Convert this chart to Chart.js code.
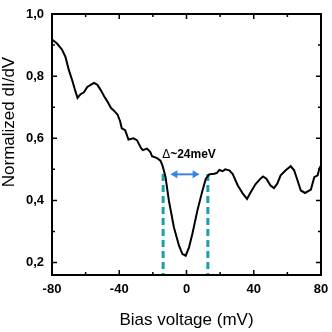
<!DOCTYPE html>
<html>
<head>
<meta charset="utf-8">
<script src="https://cdn.jsdelivr.net/npm/chart.js@4.4.1/dist/chart.umd.min.js"></script>
<style>
  html, body { margin: 0; padding: 0; background: #fff; }
  #wrap { width: 332px; height: 332px; }
</style>
</head>
<body>
<div id="wrap"><canvas id="chartDidv" width="332" height="332"></canvas></div>
<script>
// Données
const biasMv = [-80, -77, -74, -72, -70, -68, -66, -64.8, -63, -61, -59, -57, -55, -53, -51, -49, -47, -45, -43, -41,
  -39.5, -38.5, -36.5, -34.5, -31.5, -29.5, -27, -26, -23.5, -21.5, -20.5, -17.5, -15.5, -14.5, -13.5, -12.5,
  -10.5, -7.5, -4.5, -2.5, -0.5, 1.5, 3.5, 6.5, 9.5, 11.5, 13.5, 16.5, 18, 19.5, 21.5, 23, 25.5, 27.5, 30.5,
  33.5, 36, 38, 41, 44, 45.5, 47.5, 50, 52, 54, 56, 59, 62, 64, 66, 68, 70.5, 74, 76, 78, 79, 80];
const didv = [0.918, 0.905, 0.885, 0.862, 0.82, 0.787, 0.75, 0.730, 0.742, 0.748, 0.765, 0.772, 0.778, 0.772, 0.755,
  0.735, 0.718, 0.698, 0.688, 0.676, 0.655, 0.632, 0.626, 0.596, 0.600, 0.594, 0.568, 0.562, 0.567, 0.556, 0.542,
  0.536, 0.528, 0.515, 0.497, 0.476, 0.400, 0.314, 0.255, 0.228, 0.222, 0.249, 0.293, 0.368, 0.432, 0.470, 0.484,
  0.486, 0.488, 0.498, 0.494, 0.500, 0.497, 0.485, 0.448, 0.422, 0.405, 0.425, 0.452, 0.470, 0.477, 0.470, 0.448,
  0.440, 0.454, 0.481, 0.497, 0.510, 0.497, 0.465, 0.432, 0.424, 0.435, 0.475, 0.481, 0.502, 0.513];

const xTicks = [-80, -40, 0, 40, 80];
const xMinor = [-60, -20, 20, 60];
const yTicks = [0.2, 0.4, 0.6, 0.8, 1.0];
const yMinor = [0.3, 0.5, 0.7, 0.9];

// bords du gap (traits pointillés) et flèche
const gapEdges = [-13.9, 12.7];
const gapTop = 0.485;
const arrowX = [-9.6, 7.8];
const arrowY = 0.484;
const gapLabel = ['Δ', '~24meV'];

const FONT = "'Liberation Sans', Arial, sans-serif";

const dashedSets = gapEdges.map(x => ({
  data: [{ x: x, y: gapTop }, { x: x, y: 0.16 }],
  borderColor: '#1a9fab',
  borderWidth: 3,
  borderDash: [7, 4],
  pointRadius: 0
}));

const decor = {
  id: 'decor',
  afterDraw(chart) {
    const { ctx, chartArea: a, scales: { x, y } } = chart;
    ctx.save();
    ctx.strokeStyle = '#000';
    ctx.lineWidth = 2;
    ctx.strokeRect(a.left, a.top, a.right - a.left, a.bottom - a.top);

    ctx.lineWidth = 1.5;
    const tickX = (v, len) => {
      const p = x.getPixelForValue(v);
      ctx.beginPath();
      ctx.moveTo(p, a.bottom); ctx.lineTo(p, a.bottom - len);
      ctx.moveTo(p, a.top); ctx.lineTo(p, a.top + len);
      ctx.stroke();
    };
    const tickY = (v, len) => {
      const p = y.getPixelForValue(v);
      ctx.beginPath();
      ctx.moveTo(a.left, p); ctx.lineTo(a.left + len, p);
      ctx.moveTo(a.right, p); ctx.lineTo(a.right - len, p);
      ctx.stroke();
    };
    xTicks.forEach(v => tickX(v, 5));
    xMinor.forEach(v => tickX(v, 3));
    yTicks.forEach(v => tickY(v, 5));
    yMinor.forEach(v => tickY(v, 3));

    // flèche double
    const ay = y.getPixelForValue(arrowY);
    const x1 = x.getPixelForValue(arrowX[0]);
    const x2 = x.getPixelForValue(arrowX[1]);
    ctx.strokeStyle = '#3a86e0';
    ctx.fillStyle = '#3a86e0';
    ctx.lineWidth = 2;
    ctx.beginPath();
    ctx.moveTo(x1 + 4, ay); ctx.lineTo(x2 - 4, ay);
    ctx.stroke();
    ctx.beginPath();
    ctx.moveTo(x1, ay); ctx.lineTo(x1 + 7, ay - 4); ctx.lineTo(x1 + 7, ay + 4); ctx.closePath();
    ctx.moveTo(x2, ay); ctx.lineTo(x2 - 7, ay - 4); ctx.lineTo(x2 - 7, ay + 4); ctx.closePath();
    ctx.fill();

    // étiquette du gap
    ctx.fillStyle = '#000';
    ctx.textBaseline = 'alphabetic';
    ctx.textAlign = 'left';
    ctx.font = '12px ' + FONT;
    const w1 = ctx.measureText(gapLabel[0]).width;
    ctx.font = 'bold 12px ' + FONT;
    const w2 = ctx.measureText(gapLabel[1]).width;
    const cx = (x1 + x2) / 2 + 4;
    const tx = cx - (w1 + w2) / 2;
    ctx.font = '12px ' + FONT;
    ctx.fillText(gapLabel[0], tx, ay - 16.5);
    ctx.font = 'bold 12px ' + FONT;
    ctx.fillText(gapLabel[1], tx + w1, ay - 16.5);

    // titres des axes
    ctx.font = '17px ' + FONT;
    ctx.textAlign = 'center';
    ctx.textBaseline = 'middle';
    ctx.fillText('Bias voltage (mV)', (a.left + a.right) / 2, 320);
    ctx.save();
    ctx.translate(9, 122);
    ctx.rotate(-Math.PI / 2);
    ctx.fillText('Normalized dI/dV', 0, 0);
    ctx.restore();
    ctx.restore();
  }
};

const ctxDidv = document.getElementById('chartDidv');
new Chart(ctxDidv, {
  type: 'line',
  data: {
    datasets: [{
      data: biasMv.map((v, i) => ({ x: v, y: didv[i] })),
      borderColor: '#000',
      borderWidth: 2,
      pointRadius: 0,
      tension: 0
    }, ...dashedSets]
  },
  options: {
    responsive: false,
    animation: false,
    events: [],
    layout: { padding: { top: 14, right: 11, left: 0, bottom: 0 } },
    plugins: { legend: { display: false }, tooltip: { enabled: false } },
    scales: {
      x: {
        type: 'linear',
        min: -80,
        max: 80,
        afterBuildTicks: s => { s.ticks = xTicks.map(v => ({ value: v })); },
        ticks: {
          color: '#000',
          font: { family: FONT, size: 13, weight: 'bold' },
          padding: 7,
          maxRotation: 0
        },
        grid: { display: false, drawTicks: false },
        border: { display: false },
        afterFit: s => { s.height = 57; s.paddingLeft = 0; s.paddingRight = 0; }
      },
      y: {
        type: 'linear',
        min: 0.16,
        max: 1.0,
        afterBuildTicks: s => { s.ticks = yTicks.map(v => ({ value: v })); },
        ticks: {
          color: '#000',
          font: { family: FONT, size: 13, weight: 'bold' },
          padding: 8,
          callback: v => v.toFixed(1).replace('.', ',')
        },
        grid: { display: false, drawTicks: false },
        border: { display: false },
        afterFit: s => { s.width = 52; s.paddingTop = 0; s.paddingBottom = 0; }
      }
    }
  },
  plugins: [decor]
});
</script>
</body>
</html>
